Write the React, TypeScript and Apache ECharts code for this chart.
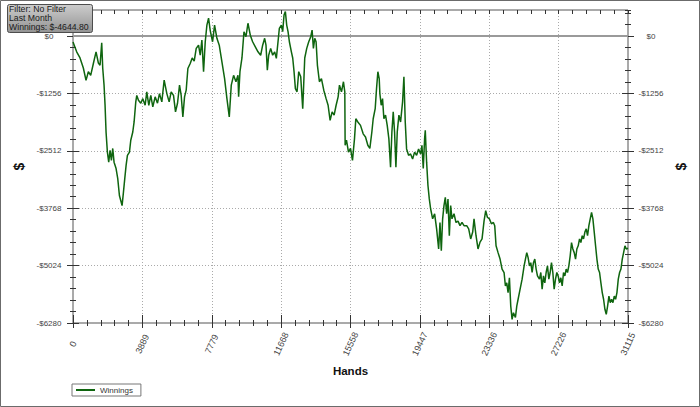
import React, { useEffect, useRef } from 'react';
import * as echarts from 'echarts';

// ---- data ----
const seriesName = 'Winnings';
const infoLines = ['Filter: No Filter', 'Last Month', 'Winnings: $-4644.80'];
const xTickLabels = ['0', '3889', '7779', '11668', '15558', '19447', '23336', '27226', '31115'];
const yTickLabels = ['-$6280', '-$5024', '-$3768', '-$2512', '-$1256', '$0'];
const xAxisName = 'Hands';
const yAxisName = '$';

const hands = [
  0, 206, 393, 580, 730, 861, 992, 1142, 1292, 1423, 1516, 1610, 1666, 1741, 1797, 1853, 1928, 2003, 2078, 2153,
  2228, 2302, 2415, 2509, 2602, 2677, 2752, 2827, 2902, 2977, 3051, 3164, 3239, 3351, 3426, 3519, 3576, 3669, 3800, 3913,
  4044, 4137, 4250, 4362, 4474, 4605, 4736, 4848, 4980, 5111, 5261, 5391, 5504, 5635, 5747, 5859, 5972, 6065, 6159, 6253,
  6346, 6440, 6571, 6683, 6795, 6908, 7039, 7132, 7226, 7320, 7413, 7507, 7600, 7694,
  7825, 7937, 8068, 8199, 8349, 8499, 8630, 8761, 8873, 9004, 9135, 9248, 9285, 9360, 9472, 9585, 9697, 9809, 9940, 10071,
  10221, 10371, 10521, 10633, 10745, 10820, 10895, 10970, 11082, 11194, 11307, 11400, 11494, 11569, 11681, 11756, 11831, 11906, 11981, 12056,
  12131, 12243, 12318, 12393, 12468, 12561, 12655, 12767, 12879, 12992, 13104, 13216, 13329, 13404, 13478, 13553, 13628, 13703, 13815, 13928,
  14059, 14190, 14302, 14414, 14527, 14639, 14751, 14864, 14939, 15051, 15163, 15238,
  15257, 15332, 15444, 15557, 15669, 15781, 15856, 15968, 16118, 16268, 16399, 16530, 16642, 16755, 16830, 16942, 17017, 17092, 17167, 17204,
  17279, 17354, 17429, 17522, 17616, 17709, 17803, 17878, 17953, 18028, 18103, 18178, 18271, 18365, 18477, 18552, 18627, 18702, 18814, 18926,
  19039, 19151, 19263, 19375, 19488, 19563, 19637, 19712, 19750, 19825, 19900, 19975, 20049, 20162, 20274, 20386, 20499, 20574, 20649, 20723,
  20798, 20873, 20948, 21023, 21098, 21173, 21247, 21360, 21472, 21584, 21697, 21809, 21921, 22071, 22183, 22295, 22408, 22483, 22595, 22707,
  22820, 22932, 23044,
  23138, 23231, 23344, 23456, 23568, 23643, 23718, 23830, 23943, 24055, 24167, 24242, 24317, 24392, 24467, 24542, 24617, 24692, 24804, 24879,
  24954, 25066, 25178, 25291, 25365, 25440, 25515, 25590, 25665, 25740, 25815, 25890, 25965, 26039, 26152, 26227, 26301, 26376, 26451, 26526,
  26601, 26676, 26751, 26826, 26901, 26975, 27050, 27125, 27200, 27275, 27350, 27425, 27500, 27575, 27649, 27724, 27799, 27874, 27949, 28024,
  28099, 28174, 28248, 28323, 28398, 28473, 28548, 28623, 28698, 28773, 28847, 28922, 28997, 29072, 29147, 29222, 29297, 29372, 29446, 29521,
  29596, 29671, 29746, 29821, 29896, 29971, 30045, 30120, 30195, 30270, 30345, 30420, 30495, 30570, 30644, 30719, 30794, 30869, 30944, 31019,
  31115,
];

const winnings = [
  -130, -345, -480, -700, -970, -780, -860, -600, -345, -590, -640, -150, -700, -1075, -1510, -2100, -2540, -2760, -2500, -2720,
  -2460, -2760, -2900, -3120, -3490, -3600, -3710, -3420, -3120, -2830, -2610, -2540, -2280, -2100, -1880, -1440, -1300, -1405, -1470, -1370,
  -1515, -1220, -1515, -1300, -1550, -1330, -1470, -1260, -1440, -965, -1260, -1440, -1220, -1300, -1660, -1470, -1075, -1300, -1770, -1330,
  -1185, -710, -600, -480, -550, -270, -200, -420, -90, -780, -130, 240, 390, 120,
  -125, 240, -50, -200, -565, -930, -1370, -1770, -1075, -860, -1000, -860, -1330, -780, -480, 95, -15, 280, 20, -125,
  -235, -345, -420, -200, -50, -200, -745, -420, -270, -420, -345, -490, -125, 170, 240, 95, 460, 535, 240, 95,
  -125, -345, -480, -780, -1150, -1220, -780, -890, -1590, -480, -270, -125, -15, 130, -270, -50, -125, -640, -1000, -930,
  -1185, -1370, -1515, -1845, -1660, -1730, -1515, -1330, -1075, -1220, -1000, -1220,
  -2390, -2280, -2540, -2460, -2720, -2250, -1810, -1880, -1955, -2140, -2210, -2390, -2460, -2100, -1810, -1590, -1150, -780, -930, -1260,
  -1515, -1370, -1810, -1730, -1955, -2250, -2870, -2100, -1660, -2100, -2870, -2100, -1730, -1880, -1440, -890, -1880, -2470, -2610, -2580,
  -2690, -2540, -2610, -2470, -2580, -2390, -2900, -2250, -2065, -2760, -3270, -3565, -3780, -4000, -3890, -4220, -4660, -4080, -4700, -4000,
  -3710, -3530, -3890, -3565, -4370, -3710, -4000, -3890, -4080, -4050, -4150, -4080, -4150, -4150, -4220, -4440, -4290, -4000, -4370, -4660,
  -4510, -4440, -4050,
  -3820, -3965, -4000, -4110, -4080, -4150, -4590, -4740, -4880, -5100, -5175, -5470, -5400, -5615, -5290, -5910, -6200, -6055, -6160, -5910,
  -5760, -5540, -5320, -5030, -4880, -4740, -4850, -5030, -4960, -5175, -4960, -4880, -5100, -5250, -5320, -5175, -5540, -5250, -5400, -5175,
  -5030, -5320, -5175, -4960, -5175, -5540, -5320, -5175, -5250, -5400, -5290, -5470, -5175, -5250, -5100, -5175, -5030, -4810, -4520, -4660,
  -4740, -4880, -4660, -4590, -4440, -4520, -4370, -4440, -4290, -4220, -4370, -4150, -4000, -3860, -4000, -4290, -4590, -4880, -5100, -5175,
  -5400, -5615, -5760, -5980, -6090, -5910, -5690, -5835, -5760, -5835, -5690, -5760, -5615, -5320, -5175, -5100, -4880, -4740, -4590, -4660,
  -4644.8,
];

const X_MIN = 0;
const X_MAX = 31115;
const X_INTERVAL = X_MAX / 8;
const Y_MIN = -6280;
const Y_MAX = 570;
const Y_INTERVAL = 1256;

const FONT = '"Liberation Sans", Arial, sans-serif';
const LINE_COLOR = '#0f650f';

const xFmt = (v: number) => {
  const i = Math.round((v - X_MIN) / X_INTERVAL);
  return Math.abs(v - (X_MIN + i * X_INTERVAL)) < 1 ? xTickLabels[i] ?? '' : '';
};
const yFmt = (v: number) => {
  const i = Math.round((v - Y_MIN) / Y_INTERVAL);
  return Math.abs(v - (Y_MIN + i * Y_INTERVAL)) < 1 ? yTickLabels[i] ?? '' : '';
};

export default function App() {
  const ref = useRef<HTMLDivElement>(null);

  useEffect(() => {
    if (!ref.current) return;
    const chart = echarts.init(ref.current, undefined, { renderer: 'svg' });

    const tickStyle = { color: '#333', width: 1 };
    const bareX = (extra: any) => ({
      type: 'value',
      min: X_MIN,
      max: X_MAX,
      axisLine: { show: false, onZero: false },
      axisLabel: { show: false },
      splitLine: { show: false },
      ...extra,
    });
    const bareY = (extra: any) => ({
      type: 'value',
      min: Y_MIN,
      max: Y_MAX,
      axisLine: { show: false, onZero: false },
      axisLabel: { show: false },
      splitLine: { show: false },
      ...extra,
    });

    const option: any = {
      animation: false,
      grid: {
        left: 73,
        right: 72,
        top: 10,
        bottom: 84,
        show: true,
        borderColor: '#555',
        borderWidth: 1,
        backgroundColor: 'transparent',
      },
      legend: {
        show: true,
        data: [{ name: seriesName, icon: 'rect' }],
        left: 72,
        top: 384,
        itemWidth: 19,
        itemHeight: 2,
        padding: [1, 8, 1, 4],
        borderColor: '#777',
        borderWidth: 1,
        backgroundColor: '#fff',
        selectedMode: false,
        textStyle: { fontSize: 8, color: '#333', fontFamily: FONT, lineHeight: 10 },
      },
      xAxis: [
        bareX({
          position: 'bottom',
          offset: 5,
          interval: X_INTERVAL,
          axisTick: { show: true, inside: true, length: 13, lineStyle: tickStyle },
          axisLabel: {
            show: true,
            rotate: 65,
            align: 'center',
            verticalAlign: 'middle',
            margin: 16,
            fontSize: 9,
            color: '#444',
            fontFamily: FONT,
            formatter: xFmt,
            showMinLabel: true,
            showMaxLabel: true,
          },
          splitLine: { show: true, lineStyle: { color: '#aaa', type: [1, 2], width: 1 } },
          name: xAxisName,
          nameLocation: 'middle',
          nameGap: 36,
          nameTextStyle: { fontSize: 11.5, fontWeight: 'bold', color: '#111', fontFamily: FONT },
        }),
        bareX({
          position: 'bottom',
          offset: 3,
          interval: X_INTERVAL / 5,
          axisTick: { show: true, inside: true, length: 6, lineStyle: tickStyle },
        }),
        bareX({
          position: 'top',
          offset: 0,
          interval: X_INTERVAL / 5,
          axisTick: { show: true, inside: true, length: 4, lineStyle: tickStyle },
        }),
      ],
      yAxis: [
        bareY({
          position: 'left',
          offset: 6,
          interval: Y_INTERVAL,
          axisTick: { show: true, inside: true, length: 12, lineStyle: tickStyle },
          axisLabel: {
            show: true,
            align: 'center',
            margin: 18,
            fontSize: 8,
            color: '#444',
            fontFamily: FONT,
            formatter: yFmt,
            showMaxLabel: false,
          },
          splitLine: { show: true, lineStyle: { color: '#aaa', type: [1, 2], width: 1 } },
          name: yAxisName,
          nameLocation: 'middle',
          nameRotate: 90,
          nameGap: 41,
          nameTextStyle: { fontSize: 14, fontWeight: 'bold', color: '#111', fontFamily: FONT },
        }),
        bareY({
          position: 'left',
          offset: 3,
          interval: Y_INTERVAL / 5,
          axisTick: { show: true, inside: true, length: 6, lineStyle: tickStyle },
        }),
        bareY({
          position: 'right',
          offset: 6,
          interval: Y_INTERVAL,
          axisTick: { show: true, inside: true, length: 12, lineStyle: tickStyle },
          axisLabel: {
            show: true,
            align: 'center',
            margin: 17,
            fontSize: 8,
            color: '#444',
            fontFamily: FONT,
            formatter: yFmt,
            showMaxLabel: false,
          },
          name: yAxisName,
          nameLocation: 'middle',
          nameRotate: 90,
          nameGap: 40,
          nameTextStyle: { fontSize: 14, fontWeight: 'bold', color: '#111', fontFamily: FONT },
        }),
        bareY({
          position: 'right',
          offset: 3,
          interval: Y_INTERVAL / 5,
          axisTick: { show: true, inside: true, length: 6, lineStyle: tickStyle },
        }),
      ],
      series: [
        {
          type: 'line',
          name: seriesName,
          xAxisIndex: 0,
          yAxisIndex: 0,
          data: hands.map((h, i) => [h, winnings[i]]),
          showSymbol: false,
          symbol: 'none',
          lineStyle: { color: LINE_COLOR, width: 1.5 },
          itemStyle: { color: LINE_COLOR },
          z: 3,
          markLine: {
            silent: true,
            symbol: 'none',
            label: { show: false },
            lineStyle: { color: '#9a9a9a', width: 2, type: 'solid' },
            data: [{ yAxis: 0 }],
            z: 2,
          },
        },
      ],
      graphic: [
        {
          type: 'rect',
          z: 100,
          silent: true,
          shape: { x: 0.5, y: 0.5, width: 699, height: 406 },
          style: { fill: 'transparent', stroke: '#6b6b6b', lineWidth: 1 },
        },
        {
          type: 'rect',
          z: 100,
          silent: true,
          shape: { x: 7.5, y: 4.5, width: 85, height: 28, r: 2 },
          style: {
            fill: new echarts.graphic.LinearGradient(0, 0, 0, 1, [
              { offset: 0, color: '#cdcdcd' },
              { offset: 1, color: '#939393' },
            ]),
            stroke: '#4d4d4d',
            lineWidth: 1,
          },
        },
        ...infoLines.map((t, i) => ({
          type: 'text',
          z: 101,
          silent: true,
          x: 9,
          y: 9 + i * 9,
          style: {
            text: t,
            fontSize: 8.7,
            fontFamily: FONT,
            fill: '#1a1a1a',
            verticalAlign: 'middle',
            align: 'left',
          },
        })),
      ],
    };

    chart.setOption(option);
    return () => chart.dispose();
  }, []);

  return (
    <div
      ref={ref}
      style={{ position: 'fixed', left: 0, top: 0, width: 700, height: 407, background: '#fff' }}
    />
  );
}
